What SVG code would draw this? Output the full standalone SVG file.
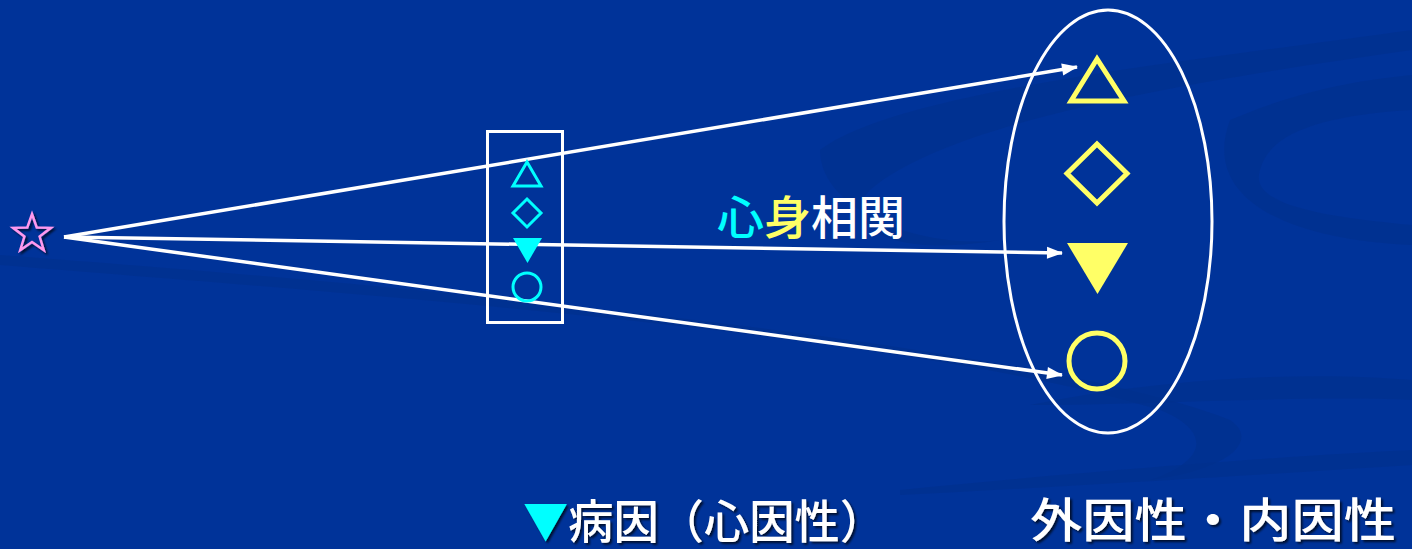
<svg xmlns="http://www.w3.org/2000/svg" width="1412" height="549" viewBox="0 0 1412 549">
<defs>
<marker id="ah" viewBox="0 0 16 12" refX="15" refY="6" markerWidth="16" markerHeight="12" markerUnits="userSpaceOnUse" orient="auto" overflow="visible">
<path d="M0,0 L16,6 L0,12 Z" fill="#fff"/>
</marker>
<filter id="sh" x="-10%" y="-10%" width="130%" height="130%">
<feDropShadow dx="2" dy="2" stdDeviation="1" flood-color="#000" flood-opacity="0.7"/>
</filter>
</defs>
<style>
.bg{fill:#003399}
.sw{fill:#00308C;opacity:0.6}
.conn{stroke:#fff;stroke-width:3.5;fill:none;marker-end:url(#ah)}
.cy{stroke:#00FFFF;stroke-width:3;fill:none}
.yl{stroke:#FFFF66;stroke-width:5;fill:none}
.t{font-family:"Noto Sans CJK JP","Noto Sans CJK SC",sans-serif;font-weight:500}
</style>
<rect class="bg" x="0" y="0" width="1412" height="549"/>
<g id="background">
<path class="sw" d="M820,150 C900,90 1200,60 1412,30 L1412,50 C1200,80 950,120 870,190 C840,220 880,260 1000,240 C920,250 820,210 820,150 Z"/>
<path class="sw" d="M1230,120 C1300,90 1360,80 1412,75 L1412,110 C1330,115 1270,130 1260,170 C1250,200 1300,215 1412,225 L1412,245 C1290,240 1200,200 1230,120 Z"/>
<path class="sw" d="M0,255 C200,270 1000,330 1230,420 C1260,440 1230,470 1150,480 C1210,460 1210,430 1160,410 C900,330 300,290 0,265 Z"/>
<path class="sw" d="M1030,405 C1150,380 1300,370 1412,380 L1412,400 C1300,395 1150,405 1030,405 Z"/>
<path class="sw" d="M900,490 C1100,470 1300,455 1412,450 L1412,465 C1300,472 1100,485 900,495 Z"/>
</g>
<g id="star">
<polygon points="32,214 36.7,227.5 51,227.8 39.6,236.5 43.8,250.2 32,242 20.2,250.2 24.4,236.5 13,227.8 27.3,227.5" fill="none" stroke="#FF99EE" stroke-width="2.5" stroke-linejoin="miter" filter="url(#sh)"/>
</g>
<g id="connectors">
<line class="conn" x1="64" y1="237" x2="1077" y2="67"/>
<line class="conn" x1="64" y1="237" x2="1062" y2="253"/>
<line class="conn" x1="64" y1="237" x2="1062" y2="375"/>
</g>
<g id="box">
<rect x="487.5" y="131.5" width="75" height="191" fill="none" stroke="#fff" stroke-width="3"/>
<polygon class="cy" points="527,162 513,186 541,186"/>
<polygon class="cy" points="527,199 541,213 527,227 513,213"/>
<polygon points="513,238 542,238 527.5,263" fill="#00FFFF"/>
<circle class="cy" cx="527" cy="287" r="14"/>
</g>
<g id="group">
<ellipse cx="1108" cy="221.5" rx="104" ry="211.5" fill="none" stroke="#fff" stroke-width="3"/>
<polygon class="yl" points="1097,59 1071,101 1124,101"/>
<polygon class="yl" points="1097,144 1127,173.5 1097,203 1067,173.5"/>
<polygon points="1067,243 1128,243 1097.5,294" fill="#FFFF66"/>
<circle class="yl" cx="1097" cy="361" r="28"/>
</g>
<g id="label-shinshin">
<text class="t" x="717" y="234" font-size="46" fill="#fff" textLength="188" lengthAdjust="spacingAndGlyphs"><tspan fill="#00FFFF">心</tspan><tspan fill="#FFFF66">身</tspan>相関</text>
</g>
<g id="label-left" filter="url(#sh)">
<text class="t" x="523" y="538" font-size="46" fill="#fff" textLength="362" lengthAdjust="spacingAndGlyphs"><tspan fill="#00FFFF">▼</tspan>病因（心因性）</text>
</g>
<g id="label-right" filter="url(#sh)">
<text class="t" x="1030" y="537" font-size="47" fill="#fff" textLength="366" lengthAdjust="spacingAndGlyphs">外因性・内因性</text>
</g>
</svg>
